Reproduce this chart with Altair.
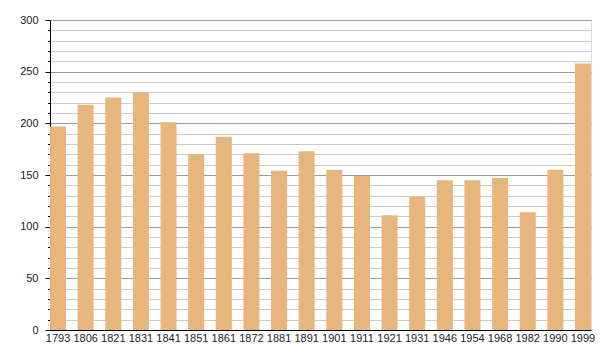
import altair as alt
import pandas as pd

years = ["1793", "1806", "1821", "1831", "1841", "1851", "1861", "1872", "1881", "1891",
         "1901", "1911", "1921", "1931", "1946", "1954", "1968", "1982", "1990", "1999"]
population = [197, 218, 225, 230, 201, 170, 187, 171, 154, 173,
              155, 149, 111, 129, 145, 145, 147, 114, 155, 258]
y_ticks = list(range(0, 301, 10))

df = pd.DataFrame({"year": years, "pop": population})

FONT = "Liberation Sans"

chart = alt.Chart(df).mark_bar(color="#E6B67C").encode(
    x=alt.X("year:N", sort=years, title=None,
            scale=alt.Scale(paddingInner=0.42, paddingOuter=0),
            axis=alt.Axis(labelAngle=0, ticks=False, domainColor="#000", domainWidth=1,
                          labelColor="#222", labelFontSize=11, labelFont=FONT,
                          labelPadding=2, grid=False)),
    y=alt.Y("pop:Q", title=None,
            scale=alt.Scale(domain=[0, 300], nice=False),
            axis=alt.Axis(values=y_ticks, domainColor="#000", domainWidth=1,
                          tickColor="#000",
                          tickSize={"condition": {"test": "datum.value % 50 === 0", "value": 5}, "value": 2.5},
                          grid=True,
                          gridColor={"condition": {"test": "datum.value % 50 === 0", "value": "#9a9a9a"}, "value": "#cccccc"},
                          gridWidth=1,
                          labelExpr="datum.value % 50 === 0 ? datum.label : ''",
                          labelColor="#222", labelFontSize=11, labelFont=FONT,
                          labelPadding=7)),
).properties(
    width=541, height=310,
    autosize=alt.AutoSizeParams(type="none"),
    padding={"left": 50, "top": 20, "right": 9, "bottom": 30},
).configure_view(stroke=None).configure(background="white")

chart.save("out.html", embed_options={"renderer": "svg", "actions": False})
